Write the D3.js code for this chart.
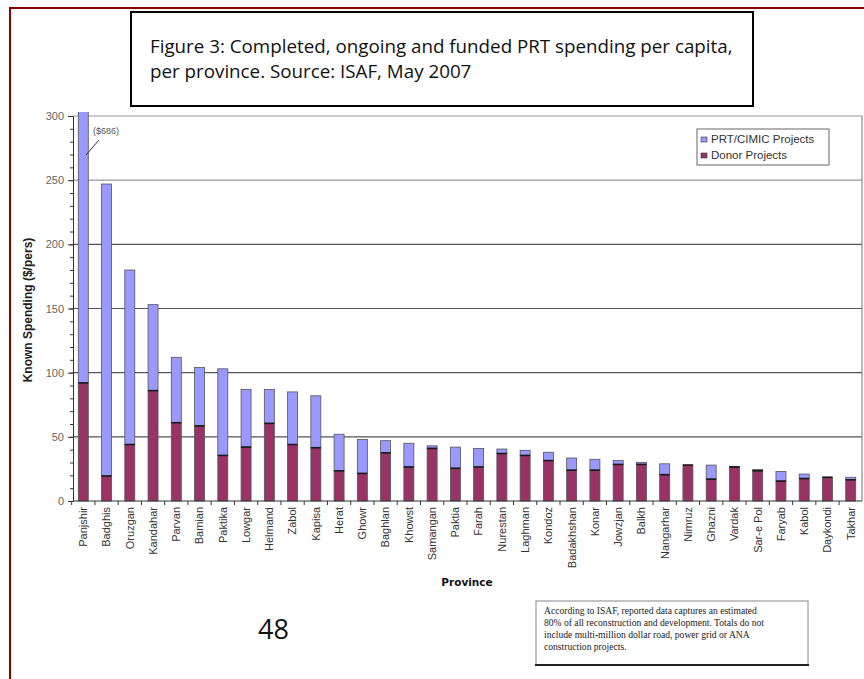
<!DOCTYPE html>
<html>
<head>
<meta charset="utf-8">
<script src="https://cdn.jsdelivr.net/npm/d3@7"></script>
<style>
  body { margin: 0; background: #fff; }
  svg { display: block; }
</style>
</head>
<body>
<svg id="grafico"></svg>
<script>
// provincias na ordem do grafico
let provincias = ["Panjshir", "Badghis", "Oruzgan", "Kandahar", "Parvan", "Bamian", "Paktika",
  "Lowgar", "Helmand", "Zabol", "Kapisa", "Herat", "Ghowr", "Baghlan", "Khowst", "Samangan",
  "Paktia", "Farah", "Nurestan", "Laghman", "Kondoz", "Badakhshan", "Konar", "Jowzjan", "Balkh",
  "Nangarhar", "Nimruz", "Ghazni", "Vardak", "Sar-e Pol", "Faryab", "Kabol", "Daykondi", "Takhar"];

// gasto total conhecido ($/pessoa)
let totais = [686, 247, 180, 153, 112, 104, 103, 87, 87, 85, 82, 52, 48, 47, 45, 43,
  42, 41, 40.5, 39.5, 38, 33.5, 32.5, 31.5, 30, 29, 28, 28, 27, 24.5, 23, 21, 18.5, 18.5];

// parte dos doadores
let doadores = [92, 19.5, 44, 86, 61, 58.5, 35.5, 42, 60.5, 44, 41.5, 23.5, 21.5, 37.5, 26.5, 41,
  25.5, 26.5, 37, 35.5, 31.5, 24, 24, 28.5, 28.5, 20.5, 28, 17, 26.5, 23.5, 15.5, 17.5, 18.5, 16.5];

let yTicks = [0, 50, 100, 150, 200, 250, 300];
let legenda = ["PRT/CIMIC Projects", "Donor Projects"];
let notas = ["According to ISAF, reported data captures an estimated",
  "80% of all reconstruction and development. Totals do not",
  "include multi-million dollar road, power grid or ANA",
  "construction projects."];

let corPRT = "#9999FF", corDoador = "#993366";
let width = 864, height = 679;

let svg = d3.select("#grafico").attr("width", width).attr("height", height);

// moldura vermelha da pagina
svg.append("path")
  .attr("d", "M10," + height + " V8 H" + width)
  .attr("fill", "none").attr("stroke", "#8B0000").attr("stroke-width", 2);

let x = d3.scaleBand().domain(provincias).range([72, 862]).paddingInner(0.57).paddingOuter(0.27);
let y = d3.scaleLinear().domain([0, 300]).range([501, 116]);

// linhas de grade
svg.append("g").selectAll("line")
  .data(yTicks.filter(d => d > 0))
  .enter().append("line")
  .attr("x1", 73).attr("x2", 862)
  .attr("y1", d => y(d)).attr("y2", d => y(d))
  .attr("stroke", d => d >= 250 ? "#999" : "#555")
  .attr("stroke-width", 1.2);

// borda direita da area do grafico
svg.append("line").attr("x1", 862).attr("x2", 862).attr("y1", y(300)).attr("y2", y(0))
  .attr("stroke", "#888").attr("stroke-width", 1.2);

svg.append("clipPath").attr("id", "corte")
  .append("rect").attr("x", 60).attr("y", 112).attr("width", 810).attr("height", 400);

let barras = svg.append("g").attr("clip-path", "url(#corte)");
let dados = provincias.map((p, i) => ({ nome: p, total: totais[i], doador: doadores[i] }));

// parte PRT/CIMIC (do topo do doador ate o total)
barras.selectAll("rect.prt")
  .data(dados).enter().append("rect")
  .attr("class", "prt")
  .attr("x", d => x(d.nome)).attr("width", x.bandwidth())
  .attr("y", d => y(d.total)).attr("height", d => y(d.doador) - y(d.total))
  .attr("fill", corPRT).attr("stroke", "#555").attr("stroke-width", 0.8);

barras.selectAll("rect.doador")
  .data(dados).enter().append("rect")
  .attr("class", "doador")
  .attr("x", d => x(d.nome)).attr("width", x.bandwidth())
  .attr("y", d => y(d.doador)).attr("height", d => y(0) - y(d.doador))
  .attr("fill", corDoador).attr("stroke", "#555").attr("stroke-width", 0.8);

// traco escuro no topo da parte dos doadores
barras.selectAll("line.topo")
  .data(dados).enter().append("line")
  .attr("x1", d => x(d.nome)).attr("x2", d => x(d.nome) + x.bandwidth())
  .attr("y1", d => y(d.doador)).attr("y2", d => y(d.doador))
  .attr("stroke", "#1a1a1a").attr("stroke-width", 1.6);

// eixo y
let eixoY = svg.append("g").attr("transform", "translate(73,0)")
  .call(d3.axisLeft(y).tickValues(yTicks).tickSize(5).tickPadding(4));
eixoY.select(".domain").attr("stroke", "#333");
eixoY.selectAll(".tick line").attr("stroke", "#333");
eixoY.selectAll("text").attr("font-family", "Liberation Sans, Arial").attr("font-size", 11).attr("fill", "#666");
svg.append("g").attr("transform", "translate(73,0)")
  .call(d3.axisLeft(y).tickValues(d3.range(0, 301, 10)).tickSize(3).tickFormat(""))
  .call(g => g.select(".domain").remove())
  .selectAll("line").attr("stroke", "#333");

// eixo x
let eixoX = svg.append("g").attr("transform", "translate(0," + y(0) + ")")
  .call(d3.axisBottom(x).tickSize(0).tickPadding(0));
eixoX.select(".domain").attr("stroke", "#333").attr("d", "M73,0H862");
eixoX.selectAll("text")
  .attr("transform", "rotate(-90)")
  .attr("text-anchor", "end")
  .attr("x", -6).attr("y", 0).attr("dy", "0.35em")
  .attr("font-family", "Liberation Sans, Arial").attr("font-size", 11).attr("fill", "#333");
svg.append("g").selectAll("line")
  .data(provincias)
  .enter().append("line")
  .attr("x1", d => x(d) - x.step() * x.paddingInner() / 2)
  .attr("x2", d => x(d) - x.step() * x.paddingInner() / 2)
  .attr("y1", y(0)).attr("y2", y(0) + 4)
  .attr("stroke", "#333");

// titulos dos eixos
svg.append("text")
  .attr("transform", "translate(32," + (y(0) + y(300)) / 2 * 1.005 + ") rotate(-90)")
  .attr("text-anchor", "middle")
  .attr("font-family", "Liberation Sans, Arial").attr("font-weight", "bold").attr("font-size", 12)
  .attr("fill", "#222").text("Known Spending ($/pers)");
svg.append("text").attr("x", 467).attr("y", 586).attr("text-anchor", "middle")
  .attr("font-family", "DejaVu Sans").attr("font-weight", "bold").attr("font-size", 10.5)
  .attr("fill", "#111").text("Province");

// anotacao do valor cortado
svg.append("text").attr("x", 93).attr("y", 134)
  .attr("font-family", "Liberation Sans, Arial").attr("font-size", 9).attr("fill", "#555")
  .text("($" + totais[0] + ")");
svg.append("line").attr("x1", 99).attr("y1", 140).attr("x2", 86).attr("y2", 155)
  .attr("stroke", "#333").attr("stroke-width", 1);

// legenda
svg.append("rect").attr("x", 697).attr("y", 129).attr("width", 132).attr("height", 36)
  .attr("fill", "#fff").attr("stroke", "#666");
let itens = svg.append("g").selectAll("g")
  .data(legenda).enter().append("g")
  .attr("transform", (d, i) => "translate(701," + (137 + i * 16) + ")");
itens.append("rect").attr("width", 6).attr("height", 5)
  .attr("fill", (d, i) => i == 0 ? corPRT : corDoador).attr("stroke", "#333").attr("stroke-width", 0.6);
itens.append("text").attr("x", 10).attr("y", 6)
  .attr("font-family", "Liberation Sans, Arial").attr("font-size", 11.5).attr("fill", "#333")
  .text(d => d);

// caixa do titulo da figura
svg.append("rect").attr("x", 131).attr("y", 12).attr("width", 622).attr("height", 94)
  .attr("fill", "#fff").attr("stroke", "#000").attr("stroke-width", 2);
let linhasTitulo = ["Figure 3: Completed, ongoing and funded PRT spending per capita,",
  "per province. Source: ISAF, May 2007"];
let t1 = svg.append("text").attr("x", 150).attr("y", 53)
  .attr("font-family", "Open Sans").attr("font-size", 17).attr("fill", "#111").text(linhasTitulo[0]);
// ajusta o tamanho para a largura da linha no original (~583px)
let fs = 17 * 583 / t1.node().getComputedTextLength();
t1.attr("font-size", fs);
svg.append("text").attr("x", 150).attr("y", 78)
  .attr("font-family", "Open Sans").attr("font-size", fs).attr("fill", "#111").text(linhasTitulo[1]);

// numero da pagina
svg.append("text").attr("x", 258).attr("y", 639)
  .attr("font-family", "Open Sans").attr("font-size", 27).attr("fill", "#111").text("48");

// nota da fonte
svg.append("rect").attr("x", 536).attr("y", 601).attr("width", 272).attr("height", 64)
  .attr("fill", "#fff").attr("stroke", "#888");
svg.append("line").attr("x1", 535).attr("x2", 809).attr("y1", 665).attr("y2", 665)
  .attr("stroke", "#222").attr("stroke-width", 2);
svg.append("g").selectAll("text")
  .data(notas).enter().append("text")
  .attr("x", 544).attr("y", (d, i) => 614 + i * 12)
  .attr("font-family", "Liberation Serif, Times New Roman").attr("font-size", 9.6).attr("fill", "#222")
  .text(d => d);
</script>
</body>
</html>
